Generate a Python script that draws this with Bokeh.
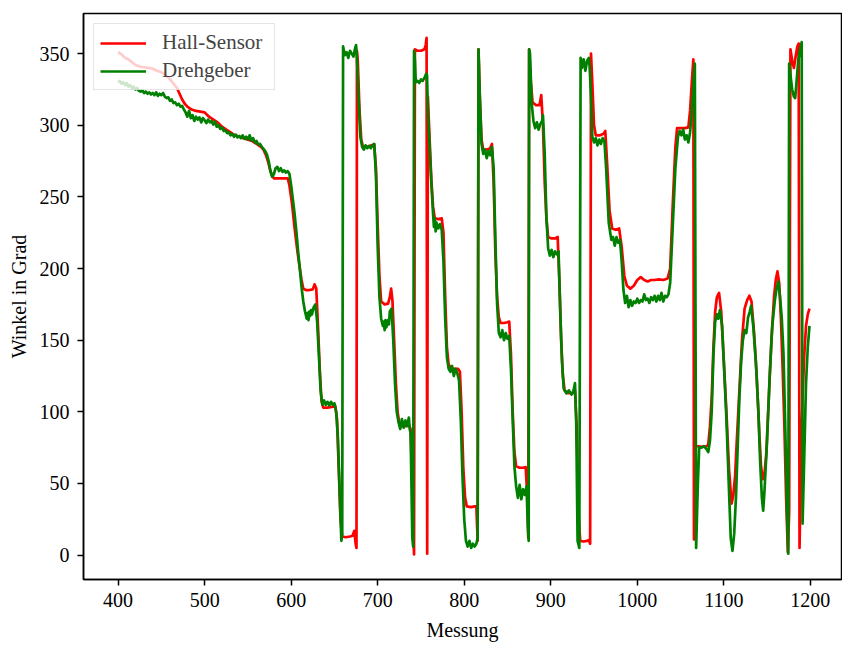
from bokeh.plotting import figure
from bokeh.models import Range1d, FixedTicker, Legend, LegendItem
from bokeh.embed import file_html
from bokeh.resources import INLINE

# ---- data (Messung, Winkel in Grad) ----
hall_points = [
    (400, 351), (404, 349.5), (408, 347), (412, 346), (416, 344), (420, 342), (425, 341),
    (430, 340.5), (435, 340), (440, 339.5), (445, 338), (450, 337), (455, 335), (460, 332),
    (464, 329), (468, 326), (471, 322), (474, 318), (477, 315), (480, 313), (485, 311),
    (490, 310), (495, 309.5), (500, 309), (505, 306), (510, 304), (515, 302), (520, 299),
    (525, 297), (530, 295), (535, 293), (540, 292), (545, 291), (550, 290), (555, 289),
    (560, 287), (565, 285), (568, 283), (571, 279), (574, 273), (576, 268), (578, 265),
    (580, 263), (586, 263), (592, 263), (596, 263), (598, 258), (601, 245), (604, 228),
    (607, 213), (610, 200), (612, 192), (614, 186), (617, 185), (621, 185), (625, 185.5),
    (627, 189), (629, 186), (631, 160), (633, 130), (635, 108), (637, 103), (642, 103),
    (647, 103.5), (651, 104), (653, 95), (655, 60), (657, 25), (659, 13), (663, 12.5),
    (668, 13), (671, 13.5), (673, 17), (674.5, 8), (675.5, 5), (676, 352), (677, 345),
    (679, 310), (681, 290), (683, 285), (688, 285), (693, 286), (696, 286.5), (698, 270),
    (700, 230), (702, 195), (704, 177), (708, 175), (712, 175.5), (714, 180), (715.5, 186),
    (717, 178), (719, 150), (721, 120), (723, 100), (725, 92), (728, 90), (732, 90),
    (736, 91), (738, 88), (740, 50), (741.5, 10), (742, 0.5), (743, 353), (746, 352),
    (750, 352), (754, 353), (755.5, 356), (756.5, 361), (757.2, 1), (758, 320), (760, 290),
    (762, 262), (764, 243), (766, 235), (770, 234.5), (774, 235), (776, 225), (778, 180),
    (780, 145), (782, 133), (785, 130), (790, 130), (793, 130), (795, 128), (797, 100),
    (799, 60), (801, 40), (803, 34), (808, 33.5), (812, 34), (814, 34), (815.5, 10),
    (816.5, 353), (818, 320), (820, 290), (822, 283), (826, 283), (830, 284), (832, 287),
    (834, 260), (836, 210), (838, 180), (840, 166), (842, 162), (846, 162), (850, 162.5),
    (852, 163), (854, 140), (856, 100), (858, 72), (860, 62), (864, 61), (868, 61),
    (871, 61.5), (873, 40), (874, 12), (875, 353), (877, 330), (879, 316), (883, 314),
    (887, 314), (889, 321), (891, 300), (893, 260), (895, 235), (897, 222), (901, 221),
    (905, 221), (908, 222), (910, 190), (912, 150), (914, 125), (916, 115), (920, 113),
    (925, 113), (928, 115), (930, 90), (932, 30), (934, 10), (938, 9.5), (942, 10),
    (944, 10.5), (945.5, 8), (946.5, 350), (948, 330), (950, 300), (952, 293), (957, 293),
    (961, 294), (963, 296), (965, 275), (968, 240), (971, 228), (975, 227), (979, 228),
    (982, 215), (985, 195), (988, 188), (992, 186), (996, 188), (1000, 192), (1004, 194),
    (1008, 192), (1012, 191), (1016, 192), (1020, 192), (1025, 192.5), (1030, 192),
    (1035, 193), (1038, 200), (1041, 245), (1044, 285), (1046, 298), (1050, 298),
    (1055, 298), (1059, 298.5), (1061, 310), (1063, 330), (1064.8, 346), (1065.5, 11),
    (1067, 76), (1070, 76), (1075, 75.5), (1080, 76), (1082, 77), (1084, 90), (1086, 110),
    (1088, 145), (1090, 170), (1092, 180), (1094.5, 183), (1097, 170), (1100, 135),
    (1103, 100), (1106, 60), (1109, 36), (1111, 42), (1113, 55), (1115, 80), (1118, 115),
    (1121, 150), (1124, 172), (1127, 178), (1129.5, 181), (1132, 177), (1135, 155),
    (1138, 125), (1141, 85), (1143, 62), (1145, 53), (1147, 57), (1149, 70), (1152, 110),
    (1155, 150), (1158, 180), (1160, 192), (1162, 198), (1164, 190), (1166, 165),
    (1168, 130), (1170, 90), (1172, 40), (1174, 2), (1175.5, 30), (1177, 353), (1179, 345),
    (1181, 340), (1183, 348), (1185, 355), (1186.5, 357), (1187.5, 5), (1189, 60),
    (1191, 110), (1193, 140), (1195, 160), (1197, 168), (1199, 172),
]

dreh_points = [
    (400, 330), (402, 331), (404, 329), (406, 330), (408, 328), (410, 329.5), (412, 327),
    (414, 328), (416, 326), (418, 327), (420, 325), (422, 326), (424, 324), (426, 323.5),
    (428, 324.5), (430, 322.5), (432, 323.5), (434, 322), (436, 323), (438, 321.5),
    (440, 322.5), (442, 321), (444, 323), (446, 320.5), (448, 322), (450, 321),
    (452, 322.5), (454, 320), (456, 319), (458, 319.5), (460, 317), (462, 318),
    (464, 315.5), (466, 316), (468, 314), (470, 315), (472, 313), (474, 313.5), (476, 311),
    (478, 309), (480, 306), (482, 310), (484, 305), (486, 307), (488, 303), (490, 306),
    (492, 304), (494, 305.5), (496, 302), (498, 305), (500, 303.5), (502, 301.5),
    (504, 304), (506, 302), (508, 303), (510, 300.5), (512, 302.5), (514, 299), (516, 300),
    (518, 297.5), (520, 298.5), (522, 296), (524, 296.5), (526, 294.5), (528, 295),
    (530, 293), (532, 294), (534, 292), (536, 293.5), (538, 291.5), (540, 292.5),
    (542, 291), (544, 293), (546, 290.5), (548, 292), (550, 290), (552, 293), (554, 289.5),
    (556, 291), (558, 288), (560, 289), (562, 286.5), (564, 287), (566, 285), (568, 283.5),
    (570, 282), (572, 279.5), (574, 275), (576, 268), (578, 264), (580, 266), (582, 270),
    (584, 271), (586, 268), (588, 270), (590, 267.5), (592, 268.5), (594, 267), (596, 268),
    (598, 266), (600, 258), (602, 248), (604, 238), (606, 226), (608, 212), (610, 200),
    (612, 187), (614, 177), (616, 170), (618, 165), (619, 169), (620, 164), (621, 170),
    (622, 167), (623, 171), (624, 168), (626, 173), (628, 175), (630, 163), (632, 140),
    (634, 115), (636, 105), (638, 108), (640, 105), (642, 107), (644, 104.5), (646, 107),
    (648, 105), (650, 106), (652, 100), (654, 82), (656, 45), (658, 10), (659, 15),
    (660, 355), (662, 349), (664, 351), (666, 347), (668, 352), (670, 350), (672, 348),
    (674, 354), (675, 356), (676, 347), (678, 318), (680, 292), (682, 285), (684, 283),
    (686, 286), (688, 284), (690, 285.5), (692, 284), (694, 286), (696, 287), (698, 265),
    (700, 215), (702, 180), (704, 165), (706, 160), (707, 163), (708, 157), (709, 164),
    (710, 159), (712, 164), (713, 161), (714, 170), (716, 172), (718, 150), (720, 120),
    (722, 100), (724, 93), (726, 88), (728, 95), (730, 89), (732, 94), (734, 90), (736, 96),
    (737, 88), (738, 85), (739, 50), (740, 12), (741, 6), (742, 352), (743, 345),
    (744, 330), (746, 331), (748, 329.5), (750, 332), (752, 331), (754, 333), (756, 336),
    (757, 335), (758, 310), (760, 285), (762, 260), (764, 238), (765, 229), (766, 235),
    (767, 226), (768, 232), (770, 228), (772, 231), (774, 227), (776, 205), (778, 165),
    (780, 138), (782, 130), (784, 128), (786, 132), (788, 125), (790, 130), (792, 127),
    (794, 122), (796, 95), (798, 55), (800, 25), (802, 10), (804, 6), (806, 10), (808, 5),
    (810, 8), (812, 6), (814, 8), (815.5, 12), (816.5, 353), (818, 320), (820, 287),
    (822, 280), (824, 283), (826, 277), (828, 282), (830, 279), (832, 285), (834, 270),
    (836, 220), (838, 175), (840, 155), (842, 152), (844, 157), (846, 150), (848, 155),
    (850, 151), (852, 153), (854, 130), (856, 95), (858, 62), (860, 48), (862, 40),
    (864, 49), (866, 39), (868, 46), (870, 42), (872, 48), (873.5, 20), (874.5, 10),
    (875, 353), (876, 350), (878, 315), (880, 303), (882, 298), (884, 302), (886, 297),
    (888, 301), (890, 303), (891, 307), (893, 280), (895, 235), (897, 214), (899, 209),
    (901, 213), (903, 208), (905, 212), (907, 210), (909, 212), (911, 170), (913, 135),
    (915, 116), (918, 113), (921, 115), (924, 112), (926, 114), (928, 120), (929.5, 90),
    (931, 10), (933, 5), (934.5, 347), (936, 340), (938, 346), (940, 338), (942, 345),
    (944, 347), (945, 340), (946.5, 320), (948, 292), (950, 288), (952, 291), (954, 286),
    (956, 290), (958, 287), (960, 291), (962, 289), (964, 270), (967, 232), (970, 220),
    (972, 222), (974, 216), (976, 222), (978, 218), (980, 220), (982, 205), (984, 185),
    (986, 176), (988, 181), (990, 173), (992, 178), (994, 174), (996, 177), (998, 176),
    (1000, 179), (1002, 176), (1004, 178), (1006, 177), (1008, 182), (1010, 178),
    (1012, 179), (1014, 176), (1016, 180), (1018, 178), (1020, 181), (1022, 177),
    (1024, 181), (1026, 178), (1028, 183), (1030, 177), (1032, 181), (1034, 180),
    (1036, 182), (1038, 190), (1041, 230), (1044, 270), (1047, 292), (1049, 296),
    (1051, 293), (1053, 297), (1055, 290), (1057, 293), (1059, 288), (1061, 295),
    (1063, 310), (1065, 330), (1066.5, 343), (1068, 5), (1070, 50), (1071.5, 75),
    (1074, 75), (1077, 76), (1080, 74), (1082, 72), (1084, 80), (1086, 100), (1088, 140),
    (1090, 163), (1092, 168), (1093.5, 165), (1095.5, 171), (1098, 160), (1100, 135),
    (1103, 95), (1106, 45), (1108, 12), (1110, 3), (1112, 15), (1114, 40), (1116, 75),
    (1118, 110), (1120, 135), (1122, 150), (1124, 157), (1126, 155), (1128, 166),
    (1130, 170), (1131.5, 174), (1134, 160), (1137, 135), (1140, 100), (1142, 65),
    (1144, 40), (1145.5, 31), (1147, 45), (1150, 80), (1153, 125), (1156, 160),
    (1159, 178), (1161, 186), (1163, 191), (1165, 180), (1167, 165), (1169, 140),
    (1171, 90), (1173, 30), (1174.5, 1), (1175.5, 343), (1177, 335), (1179, 325),
    (1181, 320), (1182.5, 319), (1184, 330), (1186, 345), (1188, 352), (1190, 358),
    (1191, 22), (1193, 70), (1195, 120), (1197, 145), (1199, 160),
]

series_labels = ["Hall-Sensor", "Drehgeber"]
series_colors = ["#ff0000", "#008000"]
x_ticks = [400, 500, 600, 700, 800, 900, 1000, 1100, 1200]
y_ticks = [0, 50, 100, 150, 200, 250, 300, 350]

messung_hall = [p[0] for p in hall_points]
winkel_hall = [p[1] for p in hall_points]
messung_dreh = [p[0] for p in dreh_points]
winkel_dreh = [p[1] for p in dreh_points]

FONT = "Liberation Serif"

p = figure(width=842, height=646, output_backend="svg", toolbar_location=None,
           x_range=Range1d(360, 1236), y_range=Range1d(-17, 378),
           min_border_left=83, min_border_right=1, min_border_top=13, min_border_bottom=67)

r1 = p.line(messung_hall, winkel_hall, line_color=series_colors[0], line_width=2.7, line_join="round")
r2 = p.line(messung_dreh, winkel_dreh, line_color=series_colors[1], line_width=2.7, line_join="round")

p.xgrid.visible = False
p.ygrid.visible = False
p.outline_line_color = "black"
p.outline_line_width = 1.5
p.background_fill_color = "white"
p.border_fill_color = "white"

for ax, ticks in ((p.xaxis[0], x_ticks), (p.yaxis[0], y_ticks)):
    ax.ticker = FixedTicker(ticks=ticks)
    ax.minor_tick_line_color = None
    ax.major_tick_out = 6
    ax.major_tick_in = 0
    ax.major_tick_line_width = 1.5
    ax.axis_line_width = 1.5
    ax.major_label_text_font = FONT
    ax.major_label_text_font_size = "20px"
    ax.major_label_text_color = "black"
    ax.axis_label_text_font = FONT
    ax.axis_label_text_font_size = "20px"
    ax.axis_label_text_font_style = "normal"
    ax.axis_label_text_color = "black"

p.xaxis[0].major_label_standoff = 7
p.xaxis[0].axis_label_standoff = 9
p.yaxis[0].major_label_standoff = 8
p.yaxis[0].axis_label_standoff = 7

p.xaxis[0].axis_label = "Messung"
p.yaxis[0].axis_label = "Winkel in Grad"

legend = Legend(items=[LegendItem(label=series_labels[0], renderers=[r1]),
                       LegendItem(label=series_labels[1], renderers=[r2])],
                location="top_left")
legend.label_text_font = FONT
legend.label_text_font_size = "21px"
legend.glyph_width = 46
legend.glyph_height = 20
legend.label_height = 20
legend.label_width = 106
legend.label_standoff = 16
legend.spacing = 3
legend.padding = 6
legend.margin = 10
legend.border_line_color = "#cccccc"
legend.border_line_width = 1.5
legend.background_fill_color = "white"
legend.background_fill_alpha = 0.8
p.add_layout(legend)

open("out.html", "w").write(file_html(p, INLINE))
